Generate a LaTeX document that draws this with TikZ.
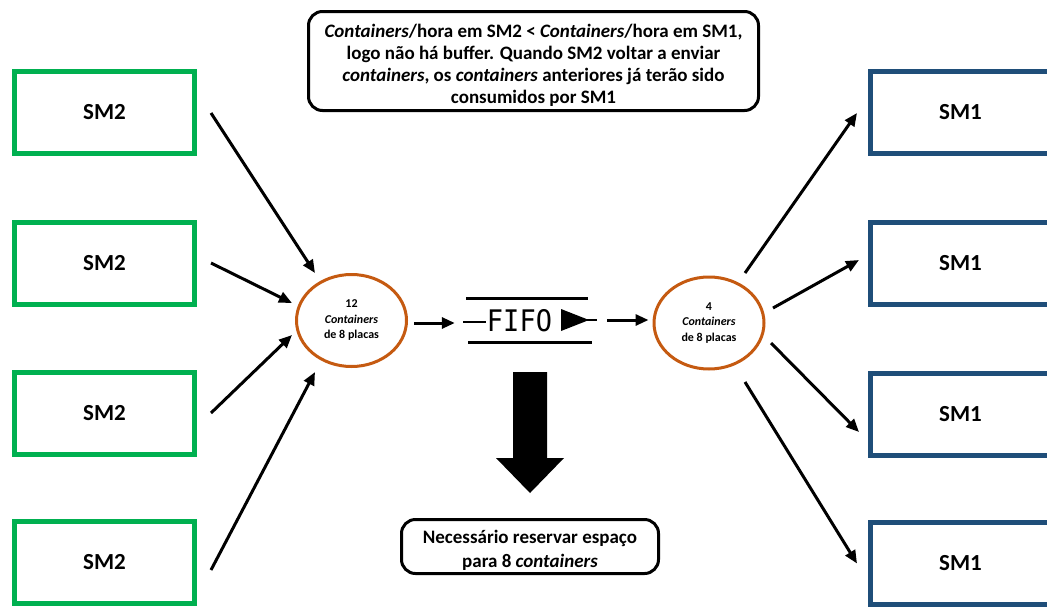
\documentclass[tikz,border=0pt]{standalone}
\usepackage{fontspec}
\setmainfont{Carlito}
\newfontfamily\fifofont{DejaVu Sans Mono}
\usetikzlibrary{arrows.meta,calc,shapes.geometric}
\definecolor{smgreen}{HTML}{00B050}
\definecolor{smblue}{HTML}{1F4E79}
\definecolor{bufferorange}{HTML}{C55A11}
\tikzset{
  smtwo/.style={draw=smgreen, line width=5pt, minimum width=180pt, minimum height=82pt,
    font=\fontsize{23}{27}\selectfont\bfseries},
  smone/.style={draw=smblue, line width=5pt, minimum width=180pt, minimum height=82pt,
    font=\fontsize{23}{27}\selectfont\bfseries},
  buffer/.style={ellipse, draw=bufferorange, line width=3pt, minimum width=110pt, minimum height=92pt,
    inner sep=0pt, align=center, font=\fontsize{12}{15.5}\selectfont\bfseries},
  note/.style={draw, rounded corners=14pt, line width=3pt, align=center,
    font=\fontsize{19}{22}\selectfont\bfseries},
  flow/.style={line width=3pt, -{Triangle[length=13pt,width=11pt]}},
}
\begin{document}
\begin{tikzpicture}[x=1pt,y=-1pt]
\useasboundingbox (0,0) rectangle (1047,606);
\clip (0,0) rectangle (1047,606);

% producers
\node[smtwo] (g1) at (104.5,112) {SM2};
\node[smtwo] (g2) at (104.5,263) {SM2};
\node[smtwo] (g3) at (104.5,413.5) {SM2};
\node[smtwo] (g4) at (104.5,562) {SM2};

% consumers
\node[smone] (s1) at (960.5,112.5) {SM1};
\node[smone] (s2) at (960.5,263.5) {SM1};
\node[smone] (s3) at (960.5,414.5) {SM1};
\node[smone] (s4) at (960.5,563.5) {SM1};

% buffers
\node[buffer] (c1) at (351.5,320.5) {12\\\textit{Containers}\\de 8 placas};
\node[buffer] (c2) at (709,323) {4\\\textit{Containers}\\de 8 placas};

% notes (the struts push the text a little below the box centre)
\node[note, minimum width=450pt, minimum height=99pt] (top) at (533.5,61)
  {\rule{0pt}{22pt}\textit{Containers}/hora em SM2 < \textit{Containers}/hora em SM1,\\
   logo não há buffer. Quando SM2 voltar a enviar\\
   \textit{containers}, os \textit{containers} anteriores já terão sido\\
   consumidos por SM1};
\node[note, minimum width=257pt, minimum height=54pt, font=\fontsize{19}{24}\selectfont\bfseries]
  (bottom) at (530,546.5)
  {\rule{0pt}{20pt}Necessário reservar espaço\\para 8 \textit{containers}};

% FIFO symbol
\node[minimum width=130pt, minimum height=44pt, inner sep=0pt] (fifo) at (529,320) {};
\draw[line width=3pt] ($(fifo.center)+(-63,-22)$) -- ($(fifo.center)+(59,-22)$);
\draw[line width=3pt] ($(fifo.center)+(-61,22)$) -- ($(fifo.center)+(63,22)$);
\draw[line width=2.5pt] ($(fifo.center)+(-66,2)$) -- ($(fifo.center)+(-43,2)$);
\node[font=\fifofont\fontsize{27}{30}\selectfont, inner sep=0pt, yscale=1.1] (fifotext)
  at ($(fifo.center)+(-9.5,1)$) {FIFO};
\fill ($(fifo.center)+(32,-11)$) -- ($(fifo.center)+(60,0)$) -- ($(fifo.center)+(32,11)$) -- cycle;
\draw[line width=1.5pt] ($(fifo.center)+(56,0)$) -- ($(fifo.center)+(68,0)$);

% block arrow towards the reservation note
\fill (513,372) -- (547,372) -- (547,458) -- (564,458) -- (530,493) -- (496,458) -- (513,458) -- cycle;

% inflow
\draw[flow] ($(g1.east)+(14,1)$) -- ($(c1.center)+(-36.5,-47.5)$);
\draw[flow] ($(g2.east)+(14,0)$) -- ($(c1.center)+(-59.5,-17.5)$);
\draw[flow] ($(g3.east)+(14,-0.5)$) -- ($(c1.center)+(-59.5,14.5)$);
\draw[flow] ($(g4.east)+(14,8)$) -- ($(c1.center)+(-36.5,51.5)$);

% through the queue
\draw[flow] ($(c1.east)+(6,2.5)$) -- ($(fifo.west)+(-9,3)$);
\draw[flow] ($(fifo.east)+(13,0)$) -- ($(c2.west)+(-4,-3)$);

% outflow
\draw[flow] ($(c2.center)+(36,-50)$) -- ($(s1.west)+(-11,0.5)$);
\draw[flow] ($(c2.center)+(64,-15)$) -- ($(s2.west)+(-9,-3.5)$);
\draw[flow] ($(c2.center)+(62,20)$) -- ($(s3.west)+(-9,17.5)$);
\draw[flow] ($(c2.center)+(36,59)$) -- ($(s4.west)+(-11,0)$);
\end{tikzpicture}
\end{document}
